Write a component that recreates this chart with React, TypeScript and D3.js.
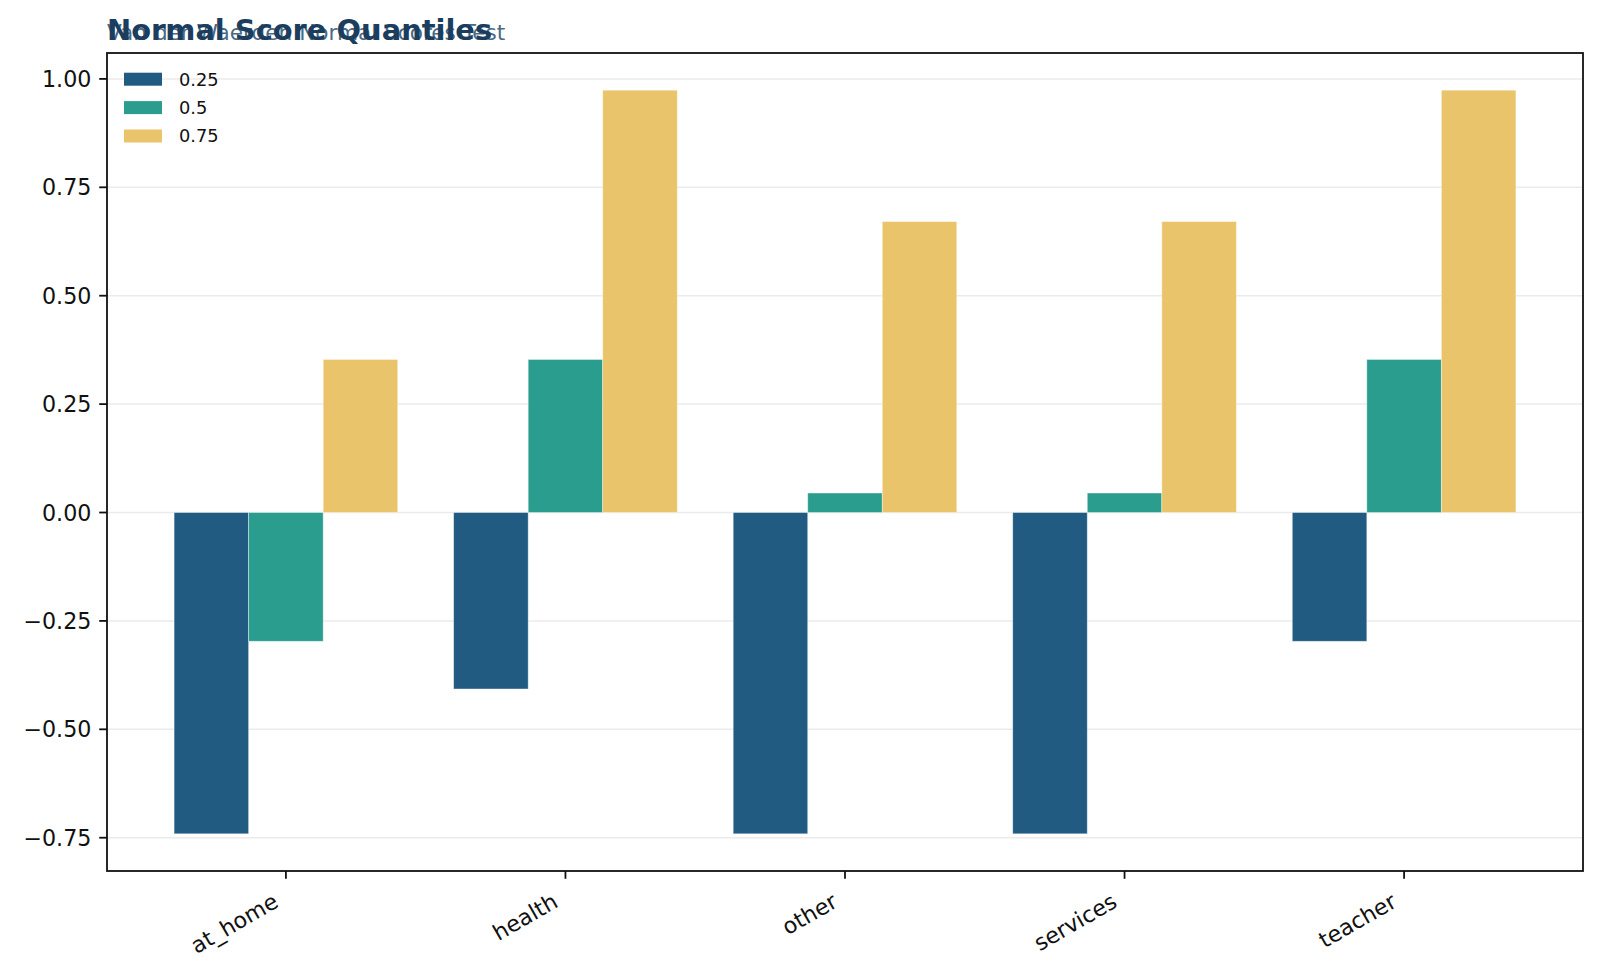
import * as d3 from "d3";
import React from "react";

const categories = ["at_home", "health", "other", "services", "teacher"];
const quantileKeys = ["0.25", "0.5", "0.75"];
const q25 = [-0.741, -0.407, -0.741, -0.741, -0.297];
const q50 = [-0.297, 0.353, 0.045, 0.045, 0.353];
const q75 = [0.353, 0.974, 0.671, 0.671, 0.974];
const yTicks = [-0.75, -0.5, -0.25, 0, 0.25, 0.5, 0.75, 1.0];

const colors = ["#215b81", "#2a9d8f", "#e9c46a"];
const series = [q25, q50, q75];

const W = 1600;
const H = 978;
const margin = { left: 107, right: 17, top: 53, bottom: 107 };
const FONT = "DejaVu Sans, sans-serif";

const App: React.FC = () => {
    const plotW = W - margin.left - margin.right;
    const plotH = H - margin.top - margin.bottom;

    // matplotlib-like limits: bars span [-0.4, 4.4] plus 5% margin
    const x = d3.scaleLinear().domain([-0.64, categories.length - 1 + 0.64]).range([0, plotW]);
    const all = series.flat();
    const lo = Math.min(0, d3.min(all)!);
    const hi = Math.max(0, d3.max(all)!);
    const pad = (hi - lo) * 0.05;
    const y = d3.scaleLinear().domain([lo - pad, hi + pad]).range([plotH, 0]);

    const barW = 0.8 / series.length;
    const fmt = d3.format(".2f");

    return (
        <svg width={W} height={H} style={{ position: "absolute", left: 0, top: 0, background: "#fff" }} fontFamily={FONT}>
            <g transform={`translate(${margin.left},${margin.top})`}>
                {/* grid */}
                {yTicks.map(t => (
                    <line key={"g" + t} x1={0} x2={plotW} y1={y(t)} y2={y(t)} stroke="#ebebeb" strokeWidth={1.5} />
                ))}
                {/* bars */}
                {series.map((vals, si) =>
                    vals.map((v, ci) => {
                        const x0 = x(ci - 0.4 + si * barW);
                        const x1 = x(ci - 0.4 + (si + 1) * barW);
                        return (
                            <rect
                                key={`b${si}-${ci}`}
                                x={x0}
                                width={x1 - x0}
                                y={Math.min(y(v), y(0))}
                                height={Math.abs(y(v) - y(0))}
                                fill={colors[si]}
                                stroke="#ffffff"
                                strokeOpacity={0.5}
                                strokeWidth={0.8}
                            />
                        );
                    })
                )}
                {/* spines */}
                <rect x={0} y={0} width={plotW} height={plotH} fill="none" stroke="#111" strokeWidth={1.8} />
                {/* y ticks */}
                {yTicks.map(t => (
                    <g key={"y" + t} transform={`translate(0,${y(t)})`}>
                        <line x1={-7.8} x2={0} stroke="#111" strokeWidth={1.8} />
                        <text x={-15.6} dy="0.36em" textAnchor="end" fontSize={22.2} fill="#111">
                            {fmt(t)}
                        </text>
                    </g>
                ))}
                {/* x ticks */}
                {categories.map((c, i) => (
                    <g key={c} transform={`translate(${x(i)},${plotH})`}>
                        <line y1={0} y2={7.8} stroke="#111" strokeWidth={1.8} />
                        <text
                            transform={`translate(-6,35) rotate(-30)`}
                            textAnchor="end"
                            fontSize={22.2}
                            fill="#111"
                        >
                            {c}
                        </text>
                    </g>
                ))}
                {/* legend */}
                {quantileKeys.map((k, i) => (
                    <g key={k} transform={`translate(17,${19.7 + i * 28.4})`}>
                        <rect x={0} y={0} width={38} height={13} fill={colors[i]} />
                        <text x={55} y={6.5} dy="0.36em" fontSize={17.8} fill="#111">
                            {k}
                        </text>
                    </g>
                ))}
            </g>
            {/* title + subtitle (overlapping as in source) */}
            <text x={margin.left} y={40} fontSize={21.6} fill="#4a6a85">
                Van der Waerden Normal Scores Test
            </text>
            <text x={margin.left} y={40} fontSize={28.9} fontWeight="bold" fill="#1b3d5e">
                Normal Score Quantiles
            </text>
        </svg>
    );
};

export default App;
